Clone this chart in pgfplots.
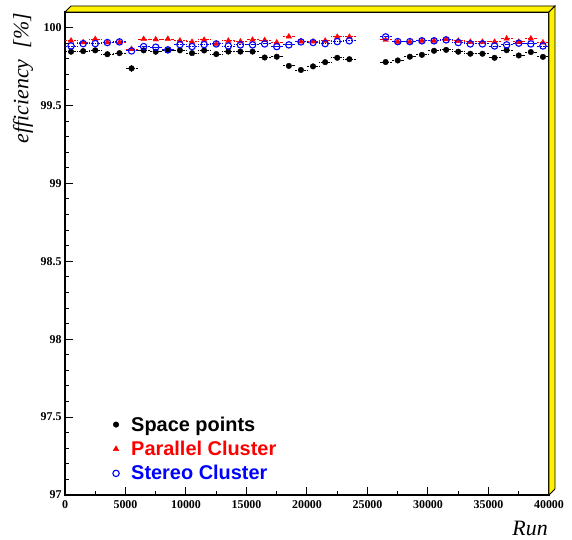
\documentclass[border=0pt]{standalone}
\usepackage{fontspec}
\setmainfont{Liberation Serif}
\setsansfont{Liberation Sans}
\usepackage{pgfplots}
\usepackage{pgfplotstable}
\pgfplotsset{compat=1.18}

\pgfplotstableread{
x y e
500 99.845 0.004
1500 99.849 0.004
2500 99.854 0.004
3500 99.829 0.004
4500 99.836 0.004
5500 99.738 0.025
6500 99.854 0.004
7500 99.845 0.004
8500 99.854 0.004
9500 99.854 0.004
10500 99.836 0.004
11500 99.853 0.004
12500 99.830 0.004
13500 99.846 0.004
14500 99.846 0.004
15500 99.846 0.004
16500 99.808 0.004
17500 99.813 0.004
18500 99.754 0.004
19500 99.728 0.004
20500 99.751 0.004
21500 99.778 0.004
22500 99.806 0.004
23500 99.797 0.004
26500 99.779 0.004
27500 99.789 0.004
28500 99.813 0.004
29500 99.825 0.004
30500 99.851 0.004
31500 99.857 0.004
32500 99.845 0.004
33500 99.832 0.004
34500 99.832 0.004
35500 99.806 0.004
36500 99.855 0.004
37500 99.821 0.004
38500 99.843 0.004
39500 99.812 0.004
}\spacepoints

\pgfplotstableread{
x y
500 99.916
1500 99.905
2500 99.926
3500 99.905
4500 99.905
5500 99.862
6500 99.926
7500 99.924
8500 99.927
9500 99.916
10500 99.908
11500 99.921
12500 99.895
13500 99.915
14500 99.910
15500 99.921
16500 99.919
17500 99.904
18500 99.942
19500 99.910
20500 99.910
21500 99.915
22500 99.940
23500 99.940
26500 99.921
27500 99.908
28500 99.908
29500 99.915
30500 99.915
31500 99.925
32500 99.915
33500 99.908
34500 99.908
35500 99.908
36500 99.929
37500 99.908
38500 99.929
39500 99.904
}\parallel

\pgfplotstableread{
x y
500 99.882
1500 99.897
2500 99.897
3500 99.904
4500 99.908
5500 99.850
6500 99.878
7500 99.874
8500 99.857
9500 99.891
10500 99.878
11500 99.891
12500 99.895
13500 99.882
14500 99.889
15500 99.889
16500 99.895
17500 99.878
18500 99.889
19500 99.908
20500 99.904
21500 99.897
22500 99.910
23500 99.915
26500 99.940
27500 99.910
28500 99.910
29500 99.915
30500 99.915
31500 99.921
32500 99.904
33500 99.895
34500 99.895
35500 99.882
36500 99.889
37500 99.900
38500 99.895
39500 99.882
}\stereo

\begin{document}
\begin{tikzpicture}
\begin{axis}[
  at={(0,0)}, anchor=south west,
  scale only axis,
  width=484bp, height=483bp,
  xmin=0, xmax=40000,
  ymin=97, ymax=100.1,
  clip=false,
  axis line style={line width=1.2bp},
  xtick={0,5000,...,40000},
  minor x tick num=1,
  ytick={97,97.5,...,100},
  minor y tick num=4,
  tick align=inside,
  xtick pos=bottom, ytick pos=left,
  major tick length=8bp, minor tick length=4bp,
  every tick/.style={line width=1bp, black},
  scaled x ticks=false,
  /pgf/number format/1000 sep={},
  /pgf/number format/assume math mode=true,
  tick label style={font=\fontsize{12}{14}\selectfont\bfseries},
  xticklabel style={yshift=-2bp},
  legend style={at={(rel axis cs:0.084,0.171)}, anchor=north west, draw=none, fill=none,
    font=\fontsize{20}{22}\selectfont\sffamily\bfseries, row sep=4.5bp},
  legend cell align=left,
  legend image code/.code={\path (0bp,0bp) (20bp,0bp); \draw[#1] plot coordinates {(7bp,0bp)};},
]
\addplot[only marks, mark=*, black, mark size=2.8bp,
  error bars/.cd, x dir=both, x fixed=500, y dir=both, y explicit, error mark=none,
  error bar style={densely dotted, line width=0.9bp, black}]
  table[x=x, y=y, y error=e] {\spacepoints};
\addlegendentry{Space points}
\addplot[only marks, mark=triangle*, red, mark size=3.2bp,
  error bars/.cd, x dir=both, x fixed=500, error mark=none,
  error bar style={densely dotted, line width=0.9bp, red}]
  table[x=x, y=y] {\parallel};
\addlegendentry{\textcolor{red}{Parallel Cluster}}
\addplot[only marks, mark=o, blue, mark size=3.2bp, mark options={line width=1.1bp},
  error bars/.cd, x dir=both, x fixed=500, error mark=none,
  error bar style={densely dotted, line width=0.9bp, blue}]
  table[x=x, y=y] {\stereo};
\addlegendentry{\textcolor{blue}{Stereo Cluster}}

\draw[fill=yellow, line width=0.8bp] (rel axis cs:0,1) -- (rel axis cs:1,1) -- ([shift={(6bp,6bp)}]rel axis cs:1,1) -- ([shift={(6bp,6bp)}]rel axis cs:0,1) -- cycle;
\draw[fill=yellow, line width=0.8bp] (rel axis cs:1,0) -- ([shift={(6bp,6bp)}]rel axis cs:1,0) -- ([shift={(6bp,6bp)}]rel axis cs:1,1) -- (rel axis cs:1,1) -- cycle;

\node[rotate=90, anchor=east, inner sep=0pt, font=\fontsize{22}{24}\selectfont\itshape] at ([xshift=-42bp, yshift=-1bp]rel axis cs:0,1) {efficiency\ \ [\%]};
\node[anchor=east, inner sep=0pt, font=\fontsize{22}{24}\selectfont\itshape] at ([xshift=-1bp, yshift=-33bp]rel axis cs:1,0) {Run};
\end{axis}
\pgfresetboundingbox
\path[use as bounding box] (-65bp,-45bp) rectangle (507bp,495bp);
\end{tikzpicture}
\end{document}
